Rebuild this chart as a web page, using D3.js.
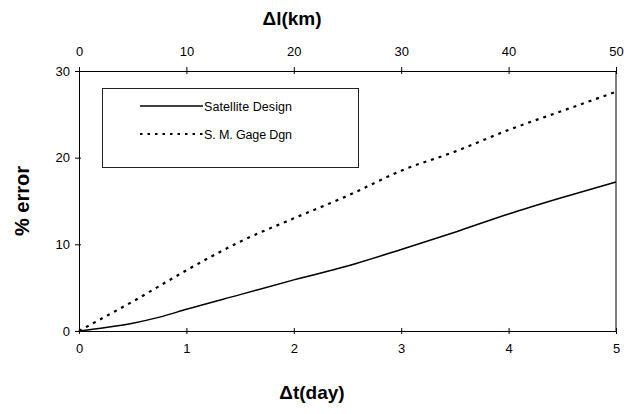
<!DOCTYPE html>
<html><head><meta charset="utf-8">
<script src="https://cdn.jsdelivr.net/npm/d3@7"></script>
<style>body{margin:0;background:#fff}svg{display:block}</style>
</head><body>
<script>
const days = [0, 0.25, 0.5, 0.75, 1, 1.5, 2, 2.5, 3, 3.5, 4, 4.5, 5];
const satelliteDesign = [0, 0.4, 0.9, 1.6, 2.5, 4.2, 5.9, 7.5, 9.4, 11.4, 13.5, 15.4, 17.2];
const gageDesign = [0, 1.7, 3.4, 5.2, 7.0, 10.3, 13.0, 15.6, 18.5, 20.7, 23.2, 25.4, 27.6];
const seriesNames = ["Satellite Design", "S. M. Gage Dgn"];
const bottomTicks = [0, 1, 2, 3, 4, 5];
const topTicks = [0, 10, 20, 30, 40, 50];
const leftTicks = [0, 10, 20, 30];

const W = 624, H = 414;
const L = 79, R = 616, T = 71, B = 331;
const font = "Arial, 'Liberation Sans', sans-serif";

const svg = d3.select("body").append("svg").attr("width", W).attr("height", H)
  .style("font-family", font);

const x = d3.scaleLinear().domain([0, 5]).range([L, R]);
const xTop = d3.scaleLinear().domain([0, 50]).range([L, R]);
const y = d3.scaleLinear().domain([0, 30]).range([B, T]);
const fmt = d3.format("d");

function styleAxis(g) {
  g.selectAll(".domain").attr("stroke", "#000").attr("stroke-width", 1);
  g.selectAll(".tick line").attr("stroke", "#000");
  g.selectAll("text").attr("fill", "#000").style("font-size", "13px").style("font-family", font);
}

svg.append("g").attr("transform", `translate(0,${B})`)
  .call(d3.axisBottom(x).tickValues(bottomTicks).tickFormat(fmt).tickSize(3).tickPadding(10).tickSizeOuter(0))
  .call(styleAxis)
  .call(g => g.selectAll(".tick line").attr("y1", -3).attr("y2", 3));

svg.append("g").attr("transform", `translate(0,${T})`)
  .call(d3.axisTop(xTop).tickValues(topTicks).tickFormat(fmt).tickSize(3).tickPadding(12).tickSizeOuter(0))
  .call(styleAxis)
  .call(g => g.selectAll(".tick line").attr("y1", -4).attr("y2", 3));

svg.append("g").attr("transform", `translate(${L},0)`)
  .call(d3.axisLeft(y).tickValues(leftTicks).tickFormat(fmt).tickSize(3).tickPadding(6).tickSizeOuter(0))
  .call(styleAxis)
  .call(g => g.selectAll(".tick line").attr("x1", -4).attr("x2", 2));

svg.append("line").attr("x1", R).attr("x2", R).attr("y1", T).attr("y2", B)
  .attr("stroke", "#000").attr("stroke-width", 1);

const line = d3.line().x(d => x(d[0])).y(d => y(d[1])).curve(d3.curveMonotoneX);
const satPts = days.map((d, i) => [d, satelliteDesign[i]]);
const gagePts = days.map((d, i) => [d, gageDesign[i]]);

svg.append("path").datum(satPts).attr("d", line)
  .attr("fill", "none").attr("stroke", "#000").attr("stroke-width", 1.5);
svg.append("path").datum(gagePts).attr("d", line)
  .attr("fill", "none").attr("stroke", "#000").attr("stroke-width", 2.2)
  .attr("stroke-dasharray", "3,5");

// legend
const lg = svg.append("g");
lg.append("rect").attr("x", 102.5).attr("y", 88.5).attr("width", 256).attr("height", 79)
  .attr("fill", "#fff").attr("stroke", "#222").attr("stroke-width", 1);
const legendStyles = [{dash: null, w: 1.5}, {dash: "2.5,5", w: 2}];
seriesNames.forEach((n, i) => {
  const yy = 106 + i * 28;
  lg.append("line").attr("x1", 140).attr("x2", 203).attr("y1", yy).attr("y2", yy)
    .attr("stroke", "#000").attr("stroke-width", legendStyles[i].w)
    .attr("stroke-dasharray", legendStyles[i].dash);
  lg.append("text").attr("x", 204).attr("y", yy + 4.5).text(n)
    .style("font-size", "12.5px").attr("fill", "#000").attr("textLength", 88);
});

// titles
svg.append("text").attr("x", 292).attr("y", 25).attr("text-anchor", "middle")
  .style("font-size", "19px").style("font-weight", "bold").text("Δl(km)");
svg.append("text").attr("x", 312).attr("y", 399).attr("text-anchor", "middle")
  .style("font-size", "19px").style("font-weight", "bold").text("Δt(day)");
svg.append("text").attr("transform", "translate(29,201) rotate(-90)").attr("text-anchor", "middle")
  .style("font-size", "20px").style("font-weight", "bold").text("% error");
</script>
</body></html>
